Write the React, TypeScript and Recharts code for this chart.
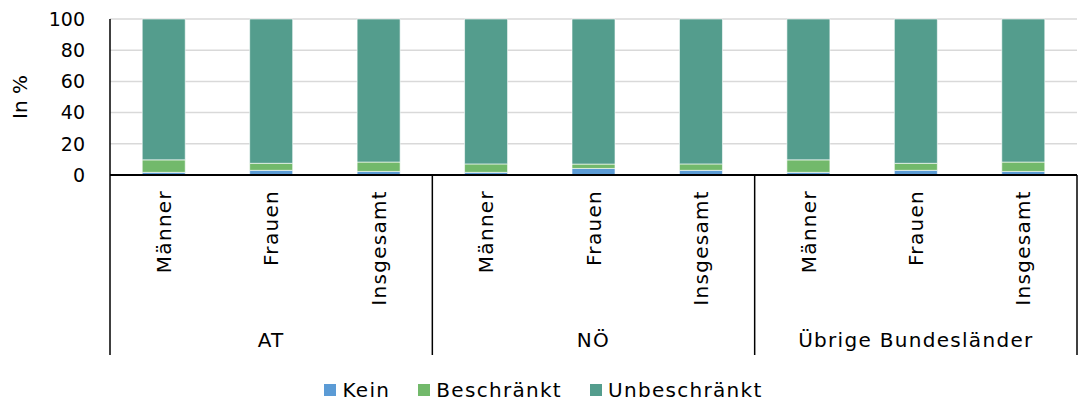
import { Bar, BarChart, CartesianGrid, Legend, XAxis, YAxis } from "recharts";

const regions = ["AT", "NÖ", "Übrige Bundesländer"];
const persons = ["Männer", "Frauen", "Insgesamt"];

// shares in %, order: AT (M, F, I), NÖ (M, F, I), Übrige (M, F, I)
const kein = [1.7, 3.0, 2.3, 1.7, 4.2, 3.0, 1.7, 3.0, 2.3];
const beschraenkt = [8.0, 4.5, 6.0, 5.4, 2.8, 4.1, 8.0, 4.5, 6.0];
const unbeschraenkt = [90.3, 92.5, 91.7, 92.9, 93.0, 92.9, 90.3, 92.5, 91.7];

const yTicks = [0, 20, 40, 60, 80, 100];

const series = [
  { key: "kein", name: "Kein", color: "#5b9bd5" },
  { key: "beschraenkt", name: "Beschränkt", color: "#72b96b" },
  { key: "unbeschraenkt", name: "Unbeschränkt", color: "#549d8d" },
];

const data = regions.flatMap((region, r) =>
  persons.map((person, p) => {
    const i = r * persons.length + p;
    return {
      id: i,
      region,
      person,
      kein: kein[i],
      beschraenkt: beschraenkt[i],
      unbeschraenkt: unbeschraenkt[i],
    };
  })
);

const FONT = "'DejaVu Sans', sans-serif";
const SPACING = 1.3;
const SEP_LEN = 180;

function PersonTick(props: any) {
  const { x, y, payload } = props;
  const idx: number = payload.index;
  const half: number = payload.offset ?? 53.7;
  const lines = [];
  if (idx % persons.length === 0) lines.push(x - half);
  if (idx === data.length - 1) lines.push(x + half);
  const ty = y + 15;
  return (
    <g>
      {lines.map((lx) => (
        <line key={lx} x1={lx} x2={lx} y1={y} y2={y + SEP_LEN} stroke="#000" strokeWidth={1.5} />
      ))}
      <text
        x={x}
        y={ty}
        transform={`rotate(-90 ${x} ${ty})`}
        textAnchor="end"
        dy="0.36em"
        fontSize={20}
        letterSpacing={SPACING}
        fontFamily={FONT}
        fill="#000"
      >
        {data[idx].person}
      </text>
    </g>
  );
}

function RegionTick(props: any) {
  const { x, y, payload } = props;
  const idx: number = payload.index;
  if (idx % persons.length !== 1) return null;
  return (
    <text
      x={x}
      y={y + 30}
      dy="0.36em"
      textAnchor="middle"
      fontSize={20}
      letterSpacing={SPACING}
      fontFamily={FONT}
      fill="#000"
    >
      {data[idx].region}
    </text>
  );
}

function LegendContent() {
  return (
    <div
      style={{
        display: "flex",
        justifyContent: "center",
        gap: 28,
        paddingTop: 18,
        paddingLeft: 10,
        fontFamily: FONT,
        fontSize: 20,
        lineHeight: "24px",
        letterSpacing: SPACING,
        color: "#000",
      }}
    >
      {series.map((s) => (
        <span key={s.key} style={{ display: "flex", alignItems: "center", gap: 6 }}>
          <span style={{ width: 12, height: 12, background: s.color, display: "inline-block" }} />
          {s.name}
        </span>
      ))}
    </div>
  );
}

export default function App() {
  return (
    <div style={{ position: "absolute", left: 0, top: 0, background: "#fff" }}>
      <BarChart
        width={1078}
        height={402}
        data={data}
        margin={{ top: 19, right: 1, left: 0, bottom: 0 }}
        barCategoryGap="30%"
      >
        <CartesianGrid vertical={false} stroke="#d9d9d9" strokeWidth={1.5} />
        <XAxis
          xAxisId="person"
          dataKey="id"
          type="category"
          height={135}
          tickSize={0}
          tickMargin={0}
          tickLine={false}
          axisLine={{ stroke: "#000", strokeWidth: 2 }}
          tick={<PersonTick />}
          interval={0}
        />
        <XAxis
          xAxisId="region"
          dataKey="id"
          type="category"
          height={50}
          tickSize={0}
          tickMargin={0}
          tickLine={false}
          axisLine={false}
          tick={<RegionTick />}
          interval={0}
        />
        <YAxis
          width={110}
          domain={[0, 100]}
          ticks={yTicks}
          tickLine={false}
          tickSize={0}
          tickMargin={25}
          axisLine={{ stroke: "#000", strokeWidth: 1.5 }}
          tick={{ fontSize: 19, fontFamily: FONT, fill: "#000" }}
          label={{
            value: "In %",
            angle: -90,
            position: "insideLeft",
            offset: 20,
            style: { fontSize: 20, fontFamily: FONT, fill: "#000", textAnchor: "middle" },
          }}
        />
        <Legend verticalAlign="bottom" height={42} content={<LegendContent />} />
        {series.map((s) => (
          <Bar
            key={s.key}
            xAxisId="person"
            dataKey={s.key}
            name={s.name}
            stackId="a"
            fill={s.color}
            stroke="#ffffff"
            strokeWidth={0.6}
            isAnimationActive={false}
          />
        ))}
      </BarChart>
    </div>
  );
}
